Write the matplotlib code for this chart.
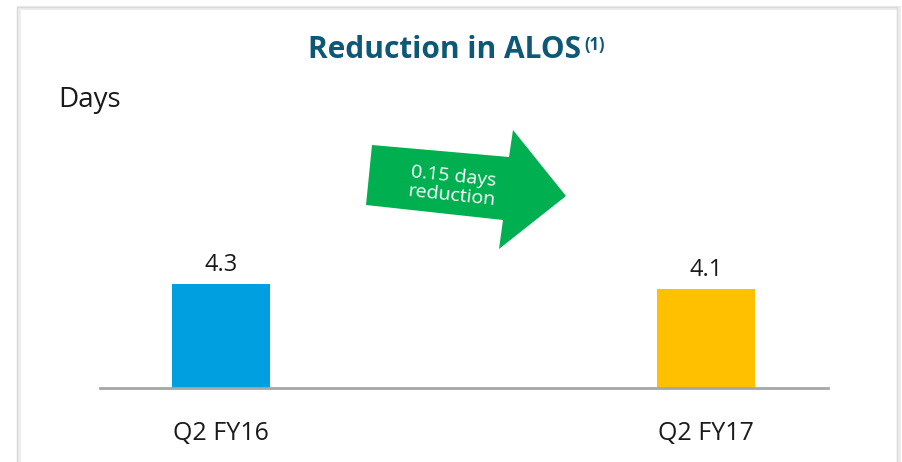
import matplotlib.pyplot as plt
from matplotlib.patches import Polygon, Rectangle

plt.rcParams['font.family'] = ['Open Sans', 'DejaVu Sans']

# data
categories = ['Q2 FY16', 'Q2 FY17']
alos_days = [4.3, 4.1]
bar_colors = ['#009FE0', '#FFC000']
arrow_text = '0.15 days\nreduction'

W, H = 903, 462
fig = plt.figure(figsize=(W / 100, H / 100), dpi=100)
fig.patch.set_facecolor('white')

# card frame with a faint shadow
fig.patches.append(Rectangle((19 / W, -0.1), 880 / W, (H - 8) / H + 0.1,
                             transform=fig.transFigure, fill=False,
                             edgecolor='#EDEDED', linewidth=3, zorder=0))
fig.patches.append(Rectangle((17 / W, -0.1), 880 / W, (H - 7) / H + 0.1,
                             transform=fig.transFigure, fill=False,
                             edgecolor='#D9D9D9', linewidth=1, zorder=1))

# bar axes: baseline at y=388px, spanning x 100..828px
ax = fig.add_axes([100 / W, (H - 388) / H, 728 / W, 258 / H])
x = list(range(len(categories)))
ax.bar(x, alos_days, width=0.202, color=bar_colors, zorder=2)
ax.set_xlim(-0.2493, 1.2522)
ax.set_ylim(0, 10.67)
for xi, v in zip(x, alos_days):
    ax.text(xi, v + 0.3, f'{v:.1f}', ha='center', va='bottom',
            fontsize=17, color='#1A1A1A')
for s in ['top', 'right', 'left']:
    ax.spines[s].set_visible(False)
ax.spines['bottom'].set_color('#A6A6A6')
ax.spines['bottom'].set_linewidth(2)
ax.set_yticks([])
ax.set_xticks(x)
ax.set_xticklabels(categories, fontsize=18, color='#1A1A1A')
ax.tick_params(axis='x', length=0, pad=24)

# title and unit label
fig.text(445 / W, 1 - 50 / H, 'Reduction in ALOS', ha='center', va='center',
         fontsize=21.5, fontweight='bold', color='#0D5877')
fig.text(584 / W, 1 - 45 / H, '(1)', ha='left', va='center',
         fontsize=12, fontweight='bold', color='#0D5877')
fig.text(58 / W, 1 - 100 / H, 'Days', ha='left', va='center',
         fontsize=20, color='#1A1A1A')

# green arrow (pixel outline converted to figure fractions)
arrow_px = [(372, 145), (509, 157), (513, 130), (566, 196),
            (499, 249), (503, 220), (366, 205)]
arrow_pts = [(px / W, 1 - py / H) for px, py in arrow_px]
fig.patches.append(Polygon(arrow_pts, closed=True, transform=fig.transFigure,
                           facecolor='#00B050', edgecolor='none', zorder=3))
fig.text(453 / W, 1 - 186 / H, arrow_text, ha='center', va='center',
         fontsize=14, color='white', rotation=-6, linespacing=1.05,
         rotation_mode='anchor', zorder=4)

fig.savefig('out.png', dpi=100, facecolor='white')
